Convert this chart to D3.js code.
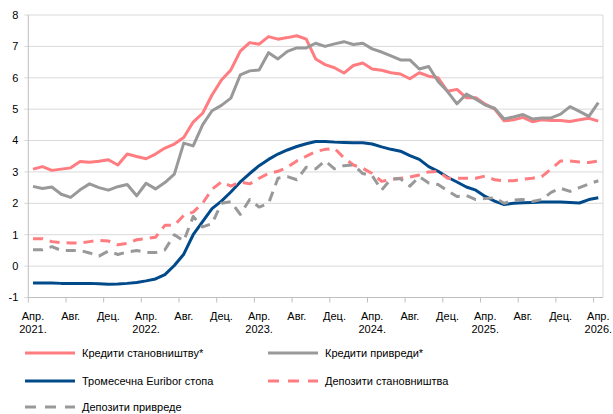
<!DOCTYPE html>
<html>
<head>
<meta charset="utf-8">
<script src="https://cdn.jsdelivr.net/npm/d3@7"></script>
<style>
  body { margin: 0; background: #fff; }
  text { font-family: "Liberation Sans", Arial, sans-serif; font-size: 11px; fill: #000; }
</style>
</head>
<body>
<svg width="613" height="414"></svg>
<script>
const svg = d3.select("svg");

const width = 613;
const height = 414;

const margin = { top: 15, right: 10, bottom: 116.5, left: 28.3 };

// months Apr 2021 .. Apr 2026
const months = [
  "2021-04","2021-05","2021-06","2021-07","2021-08","2021-09","2021-10","2021-11","2021-12",
  "2022-01","2022-02","2022-03","2022-04","2022-05","2022-06","2022-07","2022-08","2022-09","2022-10","2022-11","2022-12",
  "2023-01","2023-02","2023-03","2023-04","2023-05","2023-06","2023-07","2023-08","2023-09","2023-10","2023-11","2023-12",
  "2024-01","2024-02","2024-03","2024-04","2024-05","2024-06","2024-07","2024-08","2024-09","2024-10","2024-11","2024-12",
  "2025-01","2025-02","2025-03","2025-04","2025-05","2025-06","2025-07","2025-08","2025-09","2025-10","2025-11","2025-12",
  "2026-01","2026-02","2026-03","2026-04"
];

const tickMonths = ["2021-04","2021-08","2021-12","2022-04","2022-08","2022-12","2023-04","2023-08","2023-12",
  "2024-04","2024-08","2024-12","2025-04","2025-08","2025-12","2026-04"];
const tickLabels = [["Апр.","2021."],["Авг."],["Дец."],["Апр.","2022."],["Авг."],["Дец."],["Апр.","2023."],["Авг."],["Дец."],
  ["Апр.","2024."],["Авг."],["Дец."],["Апр.","2025."],["Авг."],["Дец."],["Апр.","2026."]];

const yTicks = [-1, 0, 1, 2, 3, 4, 5, 6, 7, 8];

const loansHouseholds = [3.09,3.17,3.05,3.09,3.13,3.33,3.31,3.34,3.39,3.22,
  3.57,3.49,3.42,3.57,3.76,3.89,4.10,4.59,4.87,5.45,
  5.93,6.25,6.85,7.12,7.07,7.31,7.23,7.28,7.34,7.23,
  6.60,6.42,6.32,6.15,6.39,6.47,6.28,6.24,6.16,6.12,
  5.97,6.16,6.05,6.00,5.57,5.63,5.36,5.36,5.16,5.00,
  4.63,4.66,4.74,4.60,4.66,4.64,4.64,4.61,4.66,4.71,4.62];

const loansCorporate = [2.54,2.47,2.52,2.29,2.19,2.43,2.62,2.50,2.42,2.53,
  2.60,2.24,2.64,2.46,2.66,2.93,3.92,3.83,4.50,4.95,
  5.12,5.35,6.09,6.22,6.25,6.80,6.60,6.84,6.95,6.95,
  7.10,7.00,7.08,7.15,7.06,7.10,6.92,6.82,6.70,6.57,
  6.57,6.28,6.36,5.88,5.56,5.17,5.48,5.32,5.13,5.03,
  4.69,4.75,4.83,4.69,4.72,4.72,4.84,5.08,4.93,4.77,5.21];

const euribor3m = [-0.54,-0.54,-0.54,-0.55,-0.55,-0.55,-0.55,-0.56,-0.58,-0.57,
  -0.55,-0.52,-0.47,-0.41,-0.27,0.02,0.38,1.00,1.42,1.83,
  2.07,2.36,2.68,2.95,3.20,3.40,3.57,3.70,3.81,3.90,
  3.97,3.97,3.95,3.94,3.93,3.93,3.89,3.80,3.72,3.66,
  3.52,3.40,3.17,3.02,2.83,2.68,2.52,2.42,2.22,2.07,
  1.96,2.00,2.02,2.03,2.04,2.04,2.04,2.03,2.01,2.12,2.18];

const depositsHouseholds = [0.87,0.87,0.78,0.75,0.74,0.74,0.78,0.82,0.80,0.68,
  0.72,0.84,0.88,0.92,1.30,1.30,1.62,1.72,2.00,2.45,
  2.68,2.55,2.68,2.62,2.80,2.95,3.02,3.15,3.35,3.50,
  3.65,3.72,3.75,3.45,3.22,3.12,2.95,2.70,2.76,2.80,
  2.84,2.90,3.00,3.02,2.80,2.80,2.80,2.80,2.87,2.75,
  2.72,2.72,2.77,2.80,2.85,3.10,3.35,3.35,3.32,3.30,3.35];

const depositsCorporate = [0.52,0.52,0.62,0.50,0.50,0.50,0.42,0.32,0.48,0.37,
  0.45,0.50,0.43,0.43,0.52,1.00,0.80,1.58,1.25,1.35,
  2.00,2.05,1.65,2.12,1.88,2.00,2.80,2.85,2.75,3.15,
  3.10,3.35,3.10,3.20,3.22,2.95,2.88,2.42,2.78,2.78,
  2.55,2.85,2.65,2.60,2.40,2.22,2.25,2.12,2.15,2.18,
  2.00,2.10,2.12,2.06,2.12,2.35,2.48,2.38,2.50,2.62,2.72];

const series = [
  { name: "Кредити становништву*", values: loansHouseholds, color: "#ff7c80", dash: null },
  { name: "Кредити привреди*", values: loansCorporate, color: "#999999", dash: null },
  { name: "Тромесечна Euribor стопа", values: euribor3m, color: "#004a8a", dash: null },
  { name: "Депозити становништва", values: depositsHouseholds, color: "#ff7c80", dash: "10,7" },
  { name: "Депозити привреде", values: depositsCorporate, color: "#999999", dash: "10,7" }
];

const xScale = d3.scaleBand()
  .domain(months)
  .range([margin.left, width - margin.right])
  .padding(0);

const yScale = d3.scaleLinear()
  .domain([-1, 8])
  .range([height - margin.bottom, margin.top]);

const cx = m => xScale(m) + xScale.bandwidth() / 2;

// gridlines
svg.append("g")
  .selectAll("line")
  .data(yTicks)
  .enter()
  .append("line")
  .attr("x1", margin.left - 4)
  .attr("x2", width - margin.right)
  .attr("y1", d => yScale(d))
  .attr("y2", d => yScale(d))
  .attr("stroke", "#d9d9d9")
  .attr("stroke-width", 1);

// plot frame right
svg.append("line")
  .attr("x1", width - margin.right).attr("x2", width - margin.right)
  .attr("y1", margin.top).attr("y2", height - margin.bottom)
  .attr("stroke", "#d9d9d9");

// left axis line
svg.append("line")
  .attr("x1", margin.left).attr("x2", margin.left)
  .attr("y1", margin.top).attr("y2", height - margin.bottom)
  .attr("stroke", "#bfbfbf");

// bottom axis line
svg.append("line")
  .attr("x1", margin.left).attr("x2", width - margin.right)
  .attr("y1", height - margin.bottom).attr("y2", height - margin.bottom)
  .attr("stroke", "#bfbfbf");

// y labels
svg.append("g")
  .selectAll("text")
  .data(yTicks)
  .enter()
  .append("text")
  .attr("x", margin.left - 10)
  .attr("y", d => yScale(d))
  .attr("dy", "0.35em")
  .attr("text-anchor", "end")
  .text(d => d);

// x ticks at category boundaries
svg.append("g")
  .selectAll("line")
  .data(tickMonths)
  .enter()
  .append("line")
  .attr("x1", d => xScale(d))
  .attr("x2", d => xScale(d))
  .attr("y1", height - margin.bottom)
  .attr("y2", height - margin.bottom + 5)
  .attr("stroke", "#bfbfbf");

// x labels
const xl = svg.append("g")
  .selectAll("text")
  .data(tickMonths)
  .enter()
  .append("text")
  .attr("text-anchor", "middle")
  .attr("transform", d => `translate(${cx(d)},${height - margin.bottom + 22})`);

xl.selectAll("tspan")
  .data((d, i) => tickLabels[i])
  .enter()
  .append("tspan")
  .attr("x", 0)
  .attr("dy", (d, i) => i === 0 ? 0 : 13)
  .text(d => d);

// lines
const line = d3.line()
  .x((d, i) => cx(months[i]))
  .y(d => yScale(d));

svg.append("g")
  .selectAll("path")
  .data(series)
  .enter()
  .append("path")
  .attr("d", d => line(d.values))
  .attr("fill", "none")
  .attr("stroke", d => d.color)
  .attr("stroke-width", 3)
  .attr("stroke-linejoin", "round")
  .attr("stroke-dasharray", d => d.dash);

// legend
const legendPos = [[25, 353], [268, 353], [25, 381], [268, 381], [25, 407]];

const lg = svg.append("g")
  .selectAll("g")
  .data(series)
  .enter()
  .append("g")
  .attr("transform", (d, i) => `translate(${legendPos[i][0]},${legendPos[i][1]})`);

lg.append("line")
  .attr("x1", 0).attr("x2", 50)
  .attr("y1", 0).attr("y2", 0)
  .attr("stroke", d => d.color)
  .attr("stroke-width", 3)
  .attr("stroke-dasharray", d => d.dash ? "11,9" : null);

lg.append("text")
  .attr("x", 57)
  .attr("y", 0)
  .attr("dy", "0.35em")
  .text(d => d.name);
</script>
</body>
</html>
